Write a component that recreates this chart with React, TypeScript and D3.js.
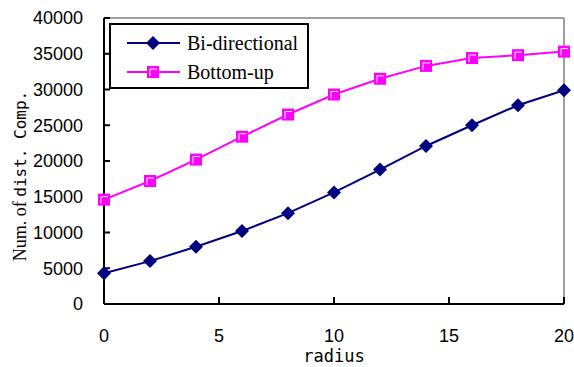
import { useRef, useEffect } from 'react';
import { select, scaleLinear, line } from 'd3';

const radius = [0, 2, 4, 6, 8, 10, 12, 14, 16, 18, 20];
const biDirectional = [4300, 6000, 8000, 10200, 12700, 15600, 18800, 22100, 25000, 27800, 29900];
const bottomUp = [14600, 17200, 20200, 23400, 26500, 29300, 31500, 33300, 34400, 34800, 35300];
const xTicks = [0, 5, 10, 15, 20];
const yTicks = [0, 5000, 10000, 15000, 20000, 25000, 30000, 35000, 40000];
const seriesNames = ['Bi-directional', 'Bottom-up'];

export default function App() {
  const svgRef = useRef<SVGSVGElement>(null);

  useEffect(() => {
    if (!svgRef.current) return;
    const svg = select(svgRef.current);
    svg.selectAll('*').remove();

    const width = 574;
    const height = 367;
    const margin = { top: 18, right: 10, bottom: 63, left: 104 };
    const innerW = width - margin.left - margin.right;
    const innerH = height - margin.top - margin.bottom;

    svg.attr('width', width).attr('height', height);
    svg.append('rect').attr('width', width).attr('height', height).attr('fill', '#fff');
    const g = svg.append('g').attr('transform', `translate(${margin.left},${margin.top})`);

    const x = scaleLinear().domain([0, 20]).range([0, innerW]);
    const y = scaleLinear().domain([0, 40000]).range([innerH, 0]);

    // Frame: gray top/right, black left/bottom
    g.append('line').attr('x1', 0).attr('x2', innerW).attr('y1', 0).attr('y2', 0)
      .attr('stroke', '#808080').attr('stroke-width', 1.5);
    g.append('line').attr('x1', innerW).attr('x2', innerW).attr('y1', 0).attr('y2', innerH)
      .attr('stroke', '#808080').attr('stroke-width', 1.5);
    g.append('line').attr('x1', 0).attr('x2', 0).attr('y1', 0).attr('y2', innerH)
      .attr('stroke', '#000').attr('stroke-width', 2);
    g.append('line').attr('x1', 0).attr('x2', innerW).attr('y1', innerH).attr('y2', innerH)
      .attr('stroke', '#000').attr('stroke-width', 2);

    // Y ticks (inward) + labels
    g.selectAll('.ytick').data(yTicks).join('line')
      .attr('x1', 0).attr('x2', 6).attr('y1', d => y(d)).attr('y2', d => y(d))
      .attr('stroke', '#000').attr('stroke-width', 2);
    g.selectAll('.ylab').data(yTicks).join('text')
      .attr('x', -21).attr('y', d => y(d)).attr('dy', '0.35em')
      .attr('text-anchor', 'end').style('font-family', 'Liberation Sans, Arial, sans-serif')
      .style('font-size', '18px').attr('fill', '#000').text(d => d);

    // X ticks (inward) + labels
    g.selectAll('.xtick').data(xTicks).join('line')
      .attr('x1', d => x(d)).attr('x2', d => x(d)).attr('y1', innerH).attr('y2', innerH - 7)
      .attr('stroke', '#000').attr('stroke-width', 2);
    g.selectAll('.xlab').data(xTicks).join('text')
      .attr('x', d => x(d)).attr('y', innerH + 38)
      .attr('text-anchor', 'middle').style('font-family', 'Liberation Sans, Arial, sans-serif')
      .style('font-size', '18px').attr('fill', '#000').text(d => d);

    // Axis titles
    g.append('text').attr('x', x(10)).attr('y', innerH + 58)
      .attr('text-anchor', 'middle').style('font-family', 'DejaVu Sans Mono, monospace')
      .style('font-size', '17px').attr('fill', '#000').text('radius');

    const yt = svg.append('text').attr('transform', `translate(26,176) rotate(-90)`)
      .attr('text-anchor', 'middle').attr('fill', '#000');
    yt.append('tspan').style('font-family', 'Liberation Serif, Times New Roman, serif')
      .style('font-size', '18px').text('Num. of ');
    yt.append('tspan').style('font-family', 'DejaVu Sans Mono, monospace')
      .style('font-size', '16px').text('dist. Comp.');

    const colors = ['#000080', '#ff00ff'];
    const datasets = [biDirectional, bottomUp];

    datasets.forEach((vals, si) => {
      const pts = radius.map((r, i) => [x(r), y(vals[i])] as [number, number]);
      g.append('path').datum(pts).attr('d', line())
        .attr('fill', 'none').attr('stroke', colors[si]).attr('stroke-width', 2);
    });

    // Markers
    const diamond = (cx: number, cy: number, s: number) =>
      `M${cx},${cy - s}L${cx + s},${cy}L${cx},${cy + s}L${cx - s},${cy}Z`;
    g.selectAll('.dia').data(radius).join('path')
      .attr('d', (r, i) => diamond(x(r), y(biDirectional[i]), 7))
      .attr('fill', colors[0]);

    const drawSquare = (sel: any, cx: number, cy: number) => {
      sel.append('rect').attr('x', cx - 6).attr('y', cy - 6).attr('width', 12).attr('height', 12)
        .attr('fill', colors[1]);
      sel.append('path').attr('d', `M${cx - 3},${cy + 4}V${cy - 3}H${cx + 4}`)
        .attr('fill', 'none').attr('stroke', '#fff').attr('stroke-width', 1);
    };
    radius.forEach((r, i) => drawSquare(g, x(r), y(bottomUp[i])));

    // Legend
    const lg = svg.append('g').attr('transform', 'translate(110,24)');
    lg.append('rect').attr('width', 198).attr('height', 64)
      .attr('fill', '#fff').attr('stroke', '#000').attr('stroke-width', 2);
    seriesNames.forEach((name, i) => {
      const ly = 19 + i * 29;
      lg.append('line').attr('x1', 17).attr('x2', 70).attr('y1', ly).attr('y2', ly)
        .attr('stroke', colors[i]).attr('stroke-width', 2);
      if (i === 0) lg.append('path').attr('d', diamond(43, ly, 7)).attr('fill', colors[0]);
      else drawSquare(lg, 43, ly);
      lg.append('text').attr('x', 77).attr('y', ly).attr('dy', '0.35em')
        .style('font-family', 'Liberation Serif, Times New Roman, serif')
        .style('font-size', '20px').attr('fill', '#000').text(name);
    });
  }, []);

  return <svg ref={svgRef} style={{ position: 'absolute', left: 0, top: 0 }} />;
}
